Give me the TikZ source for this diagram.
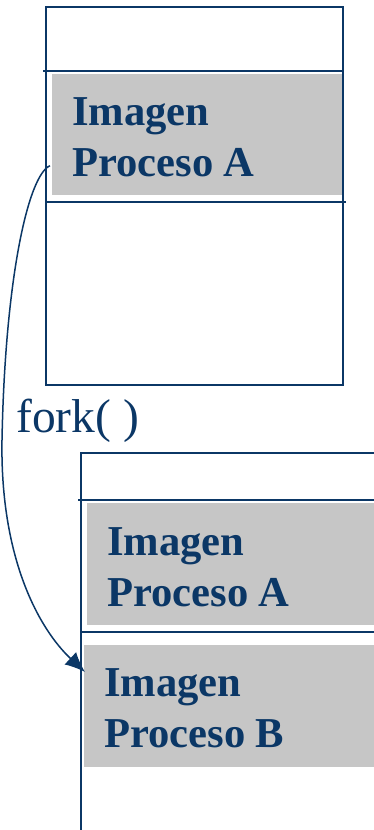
\documentclass[tikz,border=0pt]{standalone}
\usepackage{fontspec}
\setmainfont{Liberation Serif}
\usetikzlibrary{arrows.meta}
\definecolor{navy}{HTML}{0B3766}
\definecolor{greyfill}{HTML}{C6C6C6}
\begin{document}
\begin{tikzpicture}[x=1pt,y=-1pt,
  boxline/.style={draw=navy,line width=2pt},
  greyrect/.style={fill=greyfill,draw=none,inner sep=0pt,anchor=north west},
  imgtext/.style={text=navy,font=\fontsize{42.6}{51}\selectfont\bfseries,align=left,anchor=base west,inner sep=0pt},
  forktext/.style={text=navy,font=\fontsize{47.5}{50}\selectfont,anchor=base west,inner sep=0pt},
  arrowline/.style={draw=navy,line width=1.5pt,-{Latex[length=20pt,width=17pt]}}]
\useasboundingbox (0,0) rectangle (374,830);
% top box
\node[greyrect,minimum width=291pt,minimum height=121pt] (gA) at (52,74) {};
\draw[boxline] (46,7) rectangle (343,385);
\draw[boxline] (43,71) -- (343,71);
\draw[boxline] (46,202) -- (346,202);
\node[imgtext] (tA) at (72,176) {Imagen\\Proceso A};
% fork label
\node[forktext] (fork) at (16,432) {fork( )};
% bottom box
\node[greyrect,minimum width=300pt,minimum height=122pt] (gA2) at (87,503) {};
\node[greyrect,minimum width=300pt,minimum height=122pt] (gB) at (84,645) {};
\draw[boxline] (81,835) -- (81,453) -- (380,453);
\draw[boxline] (78,500) -- (380,500);
\draw[boxline] (81,632) -- (380,632);
\node[imgtext] (tA2) at (107,606) {Imagen\\Proceso A};
\node[imgtext] (tB) at (104,747) {Imagen\\Proceso B};
% arrow
\coordinate (s) at ([shift={(-2,31)}]gA.west);
\coordinate (e) at ([shift={(1,27)}]gB.north west);
\draw[arrowline] (s) .. controls (28,175) and (5,280) .. (2,440) .. controls (0,560) and (40,630) .. (e);
\end{tikzpicture}
\end{document}
